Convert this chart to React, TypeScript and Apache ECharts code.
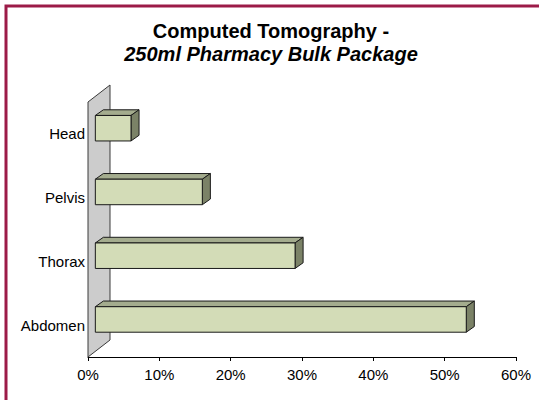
import React, { useEffect, useRef } from "react";
import * as echarts from "echarts";

const categories = ["Abdomen", "Thorax", "Pelvis", "Head"];
const values = [52, 28, 15, 5];
const xTicks = [0, 10, 20, 30, 40, 50, 60];

const DEPTH_X = 22;
const DEPTH_Y = -17;

export default function App() {
  const ref = useRef<HTMLDivElement>(null);
  useEffect(() => {
    if (!ref.current) return;
    const chart = echarts.init(ref.current, null, { renderer: "svg" });
    const font = "Liberation Sans, Arial, sans-serif";
    chart.setOption({
      animation: false,
      backgroundColor: "#ffffff",
      title: {
        left: 266,
        top: 14,
        textAlign: "center",
        text: "{a|Computed Tomography -}\n{b|250ml Pharmacy Bulk Package}",
        textStyle: {
          rich: {
            a: { fontFamily: font, fontSize: 20, fontWeight: "bold", color: "#000", lineHeight: 23 },
            b: { fontFamily: font, fontSize: 20, fontWeight: "bold", fontStyle: "italic", color: "#000", lineHeight: 23 },
          },
        },
      },
      graphic: [
        {
          type: "rect",
          shape: { x: 6, y: 6, width: 560, height: 420 },
          style: { fill: "none", stroke: "#9c1b48", lineWidth: 3 },
          z: 100,
        },
      ],
      grid: { left: 88, right: 23, top: 102, bottom: 43 },
      xAxis: {
        type: "value",
        min: xTicks[0],
        max: xTicks[xTicks.length - 1],
        interval: 10,
        axisLine: { show: true, lineStyle: { color: "#000", width: 1 } },
        axisTick: { show: true, length: 4, lineStyle: { color: "#000" } },
        splitLine: { show: false },
        axisLabel: {
          formatter: "{value}%",
          color: "#000",
          fontFamily: font,
          fontSize: 15,
          margin: 10,
        },
      },
      yAxis: {
        type: "category",
        data: categories,
        axisLine: { show: false },
        axisTick: { show: false },
        splitLine: { show: false },
        axisLabel: { color: "#000", fontFamily: font, fontSize: 15, margin: 3 },
      },
      series: [
        {
          type: "custom",
          clip: false,
          z: 1,
          data: [[0, 0]],
          renderItem: (params: any, api: any) => {
            const cs = params.coordSys;
            const x = cs.x;
            const yTop = cs.y;
            const yBot = cs.y + cs.height;
            return {
              type: "group",
              children: [
                {
                  type: "polygon",
                  shape: {
                    points: [
                      [x, yBot],
                      [x + DEPTH_X, yBot + DEPTH_Y],
                      [x + DEPTH_X, yTop + DEPTH_Y],
                      [x, yTop],
                    ],
                  },
                  style: { fill: "#cccccc", stroke: "#3a3a3a", lineWidth: 1 },
                },
              ],
            };
          },
        },
        {
          type: "custom",
          clip: false,
          z: 2,
          data: values.map((v, i) => [v, i]),
          encode: { x: 0, y: 1 },
          renderItem: (params: any, api: any) => {
            const v = api.value(0);
            const idx = api.value(1);
            const p0 = api.coord([0, idx]);
            const p1 = api.coord([v, idx]);
            const band = api.size([0, 1])[1];
            const h = band * 0.4;
            const ox = DEPTH_X / 3;
            const oy = DEPTH_Y / 3;
            const dx = DEPTH_X / 3 + 0.7;
            const dy = DEPTH_Y / 3;
            const x0 = p0[0] + ox;
            const x1 = p1[0] + ox;
            const yc = p0[1] + oy;
            const yT = yc - h / 2;
            const yB = yc + h / 2;
            const stroke = { stroke: "#1a1a1a", lineWidth: 1 };
            return {
              type: "group",
              children: [
                {
                  type: "polygon",
                  shape: { points: [[x0, yT], [x0 + dx, yT + dy], [x1 + dx, yT + dy], [x1, yT]] },
                  style: { fill: "#a4ac8e", ...stroke },
                },
                {
                  type: "polygon",
                  shape: { points: [[x1, yT], [x1 + dx, yT + dy], [x1 + dx, yB + dy], [x1, yB]] },
                  style: { fill: "#7b8267", ...stroke },
                },
                {
                  type: "rect",
                  shape: { x: x0, y: yT, width: x1 - x0, height: h },
                  style: { fill: "#d3dcb7", ...stroke },
                },
              ],
            };
          },
        },
      ],
    });
    return () => chart.dispose();
  }, []);
  return <div ref={ref} style={{ width: 539, height: 400, position: "absolute", left: 0, top: 0 }} />;
}
